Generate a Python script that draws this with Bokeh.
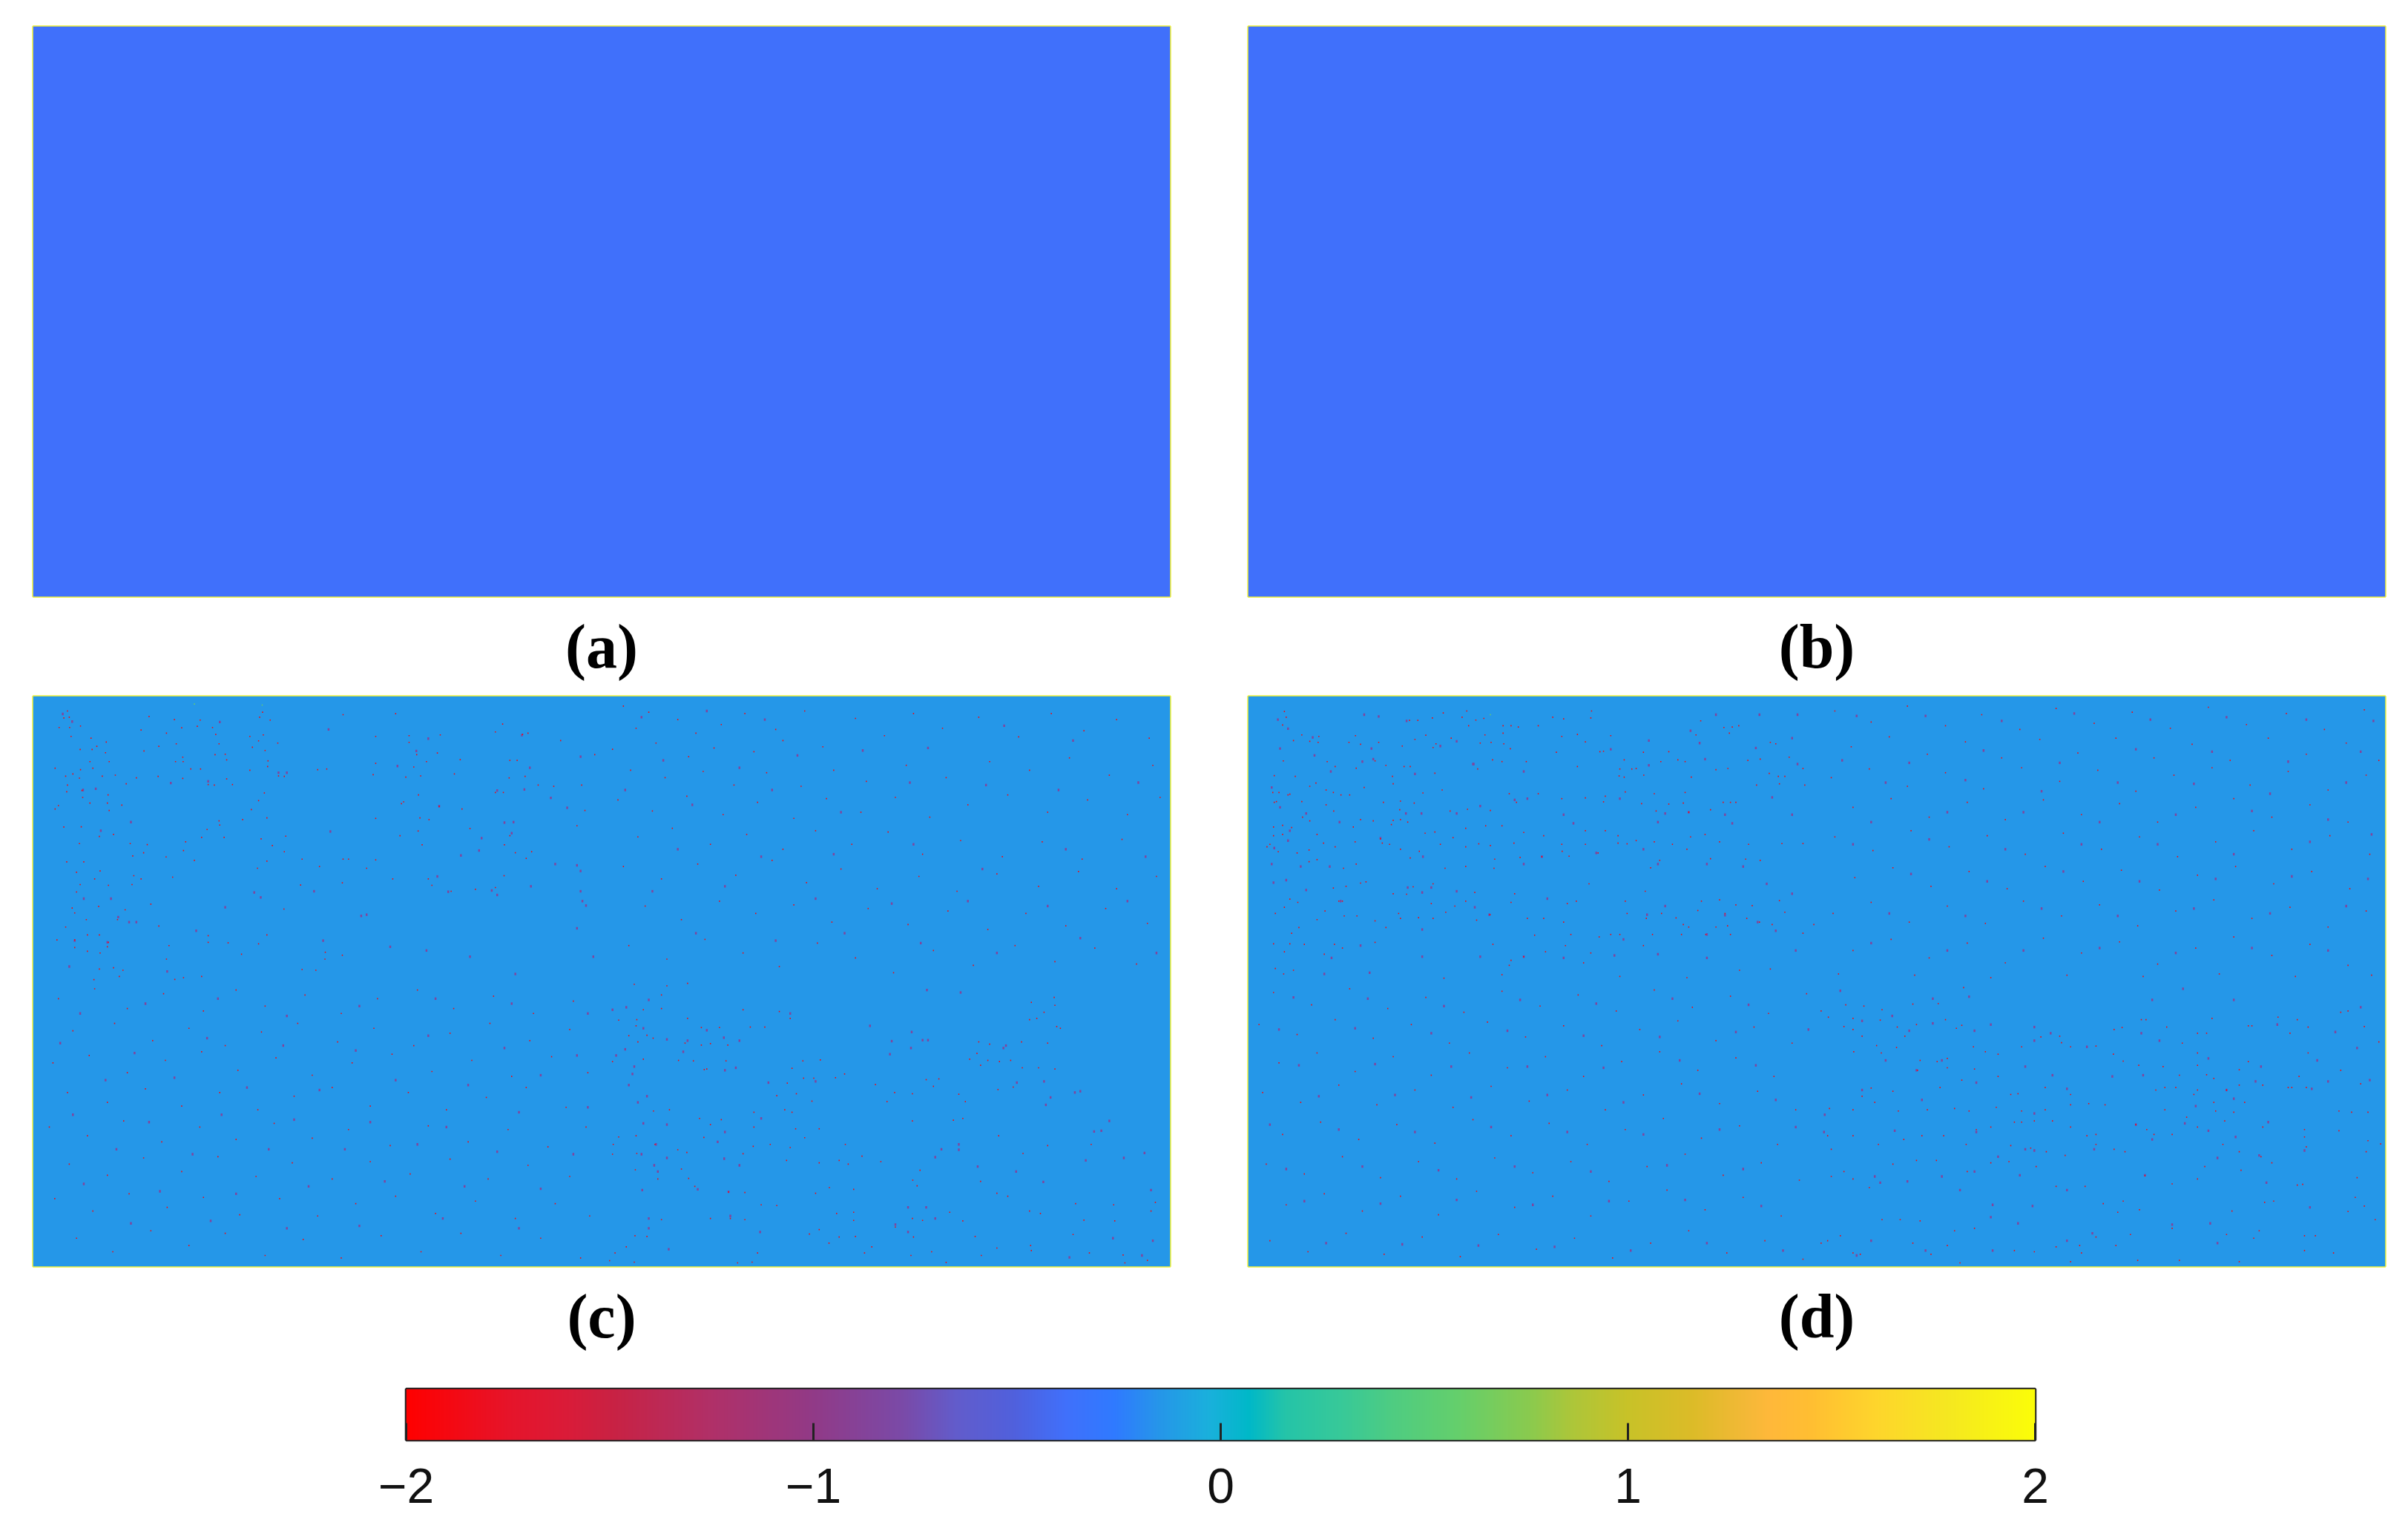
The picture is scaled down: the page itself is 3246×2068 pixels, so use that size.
import numpy as np
from bokeh.plotting import figure
from bokeh.layouts import column, row
from bokeh.embed import file_html
from bokeh.resources import INLINE
from bokeh.models import LinearColorMapper, FixedTicker, Title, ColumnDataSource
from bokeh.transform import linear_cmap

# ---------- colour scale ----------
scale_values = [-2.0, -1.75, -1.61, -1.49, -1.25, -1.0, -0.78, -0.65, -0.51, -0.38, -0.26, -0.145, -0.03, 0.07, 0.16,
                0.3, 0.42, 0.58, 0.76, 0.86, 1.0, 1.16, 1.3, 1.35, 1.45, 1.61, 1.79, 2.0]
scale_colors = ["#ff0000", "#e6142a", "#da1b38", "#c82244", "#b03068", "#913a87", "#7a4aa8", "#625ccb", "#5060dc",
                "#4070fb", "#2f7aff", "#2597e8", "#1ab0dc", "#00b8c8", "#25c4a8", "#38c998", "#4ecc82", "#64cf6c",
                "#8aca4e", "#acc63a", "#c8c228", "#dcbb28", "#f5b838", "#ffb83a", "#ffbe32", "#fed52c", "#f5e820", "#fbfd08"]
cbar_ticks = [-2, -1, 0, 1, 2]
cbar_labels = {-2: "\u22122", -1: "\u22121", 0: "0", 1: "1", 2: "2"}
captions = ["(a)", "(b)", "(c)", "(d)"]

# ---------- panel background values ----------
panel_a = [[-0.38, -0.38], [-0.38, -0.38]]
panel_b = [[-0.38, -0.38], [-0.38, -0.38]]
panel_c = [[-0.145, -0.145], [-0.145, -0.145]]
panel_d = [[-0.145, -0.145], [-0.145, -0.145]]

RED = -1.95      # value of the saturated isolated cells
MUTED = -0.85    # value of the softer isolated cells
GREEN = 0.6      # value of the rare positive cells

# ---------- isolated cells, per quadrant of a panel ----------
c_tl_red = [(95,60),(85,88),(100,85),(72,127),(101,127),(131,121),(105,163),(160,170),(202,186),(130,216),(163,216),(176,203),(200,229),(157,265),(210,265),(165,292),(61,292),(90,324),(131,298),(110,315),(128,332),(191,324),(227,320),(285,331),(95,360),(93,387),(135,382),(137,410),(207,400),(257,355),(70,443),(61,457),(157,433),(205,433),(210,463),(245,441),(85,530),(133,529),(183,568),(222,560),(128,597),(268,597),(315,601),(421,590),(275,647),(305,634),(367,651),(415,625),(445,665),(140,671),(93,671),(185,708),(120,713),(170,740),(130,763),(208,766),(278,727),(298,740),(385,733),(120,793),(273,763),(325,842),(108,858),(115,878),(181,851),(254,865),(147,905),(90,935),(233,905),(347,931),(183,967),(150,967),(66,987),(115,987),(208,997),(115,1018),(150,1033),(205,1015),(185,1040),(368,1065),(375,1010),(248,1110),(183,1105),(222,1100),(168,1148),(238,1135),(391,1147),(415,1140),(465,1135),
(320,82),(390,95),(410,128),(298,137),(368,150),(395,193),(347,203),(306,222),(413,247),(414,265),(393,265),(345,325),(413,333),(435,295),(462,295),(483,358),(500,360),(534,335),(550,358),(534,258),(530,235),(502,237),(513,193),(504,155),(495,127),(453,122),(461,97),(625,85),(633,65),(654,97),(598,163),(635,157),(622,181),(675,190),(640,220),(605,207),(648,262),(598,300),(647,285),(677,323),(693,325),(638,392),(622,423),(602,459),(645,493),(578,500),(515,522),(513,505),(480,540),(465,572),(527,572),(629,578),(660,605),(693,630),(697,567),(645,668),(619,697),(742,660),(790,690),(855,660),(870,660),(945,663),(920,697),(992,740),(853,756),(738,765),(692,862),(645,967),(622,1003),(483,970),(483,997),(538,999),(575,1045),(806,1037),(853,1049),(805,1065),(742,1107),(780,1110),
(855,75),(1000,71),(945,163),(1037,187),(1037,160),(1123,157),(1275,145),(1295,113),(1350,155),(1365,150),(1455,180),(1058,237),(1115,230),(1178,257),(1315,260),(1335,260),(1313,331),(1357,325),(1513,360),(1549,237),(1085,265),(1050,287),(945,272),(810,295),(785,298),(938,318),(1028,328),(1069,323),(1162,315),(1436,365),(1393,360),(1297,390),(1275,390),(1063,400),(1022,428),(1016,435),(1120,447),(1183,457),(1067,493),(945,495),(1092,500),(1500,525),(1522,463),(1205,536),(1315,565),(1300,602),(1062,546),(1012,565),(1073,602),(1330,634),(1375,630),(1360,657),(1299,727),(1090,740),(1100,766),(1275,775),(1153,790),(1220,782)]
c_tl_muted = [(82,72),(108,103),(515,105),(815,135),(1057,222),(1090,172),(1005,283),(1348,158),(1370,290),(1510,245),(700,310),(677,310),(173,375),(138,380),(380,352),(483,345),(1120,445),(1280,382),(1355,378),(1428,412),(1473,452),(270,510),(187,545),(820,548),(1325,510),(1300,512),(1320,555),(1237,575),(1230,625),(1180,645),(1440,680),(1500,685),(1510,708),(1373,770),(1265,787),(1280,805),(1145,792),(1115,730),(775,790),(610,795),(628,815),(530,855),(215,820),(140,820),(235,895),(265,915),(285,915),(920,885),(905,890),(205,997),(115,990),(100,1095),(370,1115),(450,950),(800,990),(985,1015),(1085,1030),(1205,1055),(1330,1125),(1545,1055),(1515,830),(1525,848),(1510,790),(1500,940)]
c_tl_green = [(445,32),(632,36)]

c_br_red = [(90,12),(180,18),(237,8),(165,55),(115,115),(165,110),(97,155),(47,157),(95,180),(125,218),(75,220),(142,230),(237,150),(275,187),(325,187),(390,115),(490,122),(520,150),(348,258),(410,185),(450,185),(300,252),(275,258),(230,250),(100,245),(212,320),(253,322),(115,315),(30,325),(283,357),(343,322),(290,355),(525,352),(555,322),(603,318),(557,392),(585,392),(645,390),(670,375),(512,412),(537,455),(483,463),(580,485),(505,520),(525,530),(420,530),(330,560),(420,590),(600,597),(535,597),(300,580),(270,555),(143,525),(187,520),(95,625),(47,630),(32,660),(97,697),(147,660),(210,682),(235,693),(93,763),(220,760),(240,798),(155,800),(30,700),(282,632),(390,698),(418,668),(465,660),(560,633),(520,673),(510,725),(600,735),(655,725),(672,660),(680,740),(718,708),(770,730),(257,830),(350,853),(395,855),(590,858),(628,835),(695,842),(483,908),(440,905),(300,960),(355,960),(395,965),(165,965),(125,1033),(92,1030),(68,1075),(37,1100),(22,1131),(90,1137),(375,1140),(415,1137),(430,1100),(573,1023),(600,1005),(648,940),(695,935),(695,968),(700,1033),(655,1035),(627,1060),(745,1075),(725,1100),(810,995),(857,960),(885,968),(960,935),(996,970),(860,1035),(853,1110),(910,1095),(950,1138),(1030,1033),(1047,1110),(1090,1080),(1183,1070),(1185,1090),(1300,1025),(1345,1100),(1505,1130),(1443,1140),(1438,1108),(1350,660),(1095,625),(1230,665),(1162,697),(1045,810),(878,765),(858,805),(870,828),(1090,858),(1120,870),(1180,930),(1210,940),(1307,900),(1412,905),(1527,895),(1515,930),(1415,970),(1330,967),(1070,254),(1065,320),(1040,245),(1128,320),(1097,325),(1158,245),(1185,85),(1248,65),(1250,97),(1180,155),(1200,150),(1220,125),(1255,183),(1265,190),(1230,250),(1250,355),(1205,350),(1160,350),(1135,428),(1093,438),(1045,340),(1015,315),(1035,292),(857,455),(787,487),(985,457),(1003,487),(857,565),(970,562),(996,555),(808,450),(755,418),(915,425),(930,395),(895,398)]
c_br_muted = [(30,115),(68,105),(130,75),(115,190),(180,235),(237,240),(290,198),(337,228),(380,240),(225,285),(65,275),(40,300),(90,345),(85,375),(75,420),(125,465),(100,490),(115,575),(180,580),(340,360),(370,350),(460,410),(590,405),(440,555),(340,610),(320,650),(338,718),(380,745),(150,660),(180,715),(110,700),(145,745),(155,770),(112,845),(265,842),(350,852),(355,950),(130,960),(130,1000),(185,1085),(437,1015),(810,985),(845,1015),(920,960),(985,660),(937,680),(920,712),(985,682),(1037,750),(1143,770),(1218,812),(1238,470),(1225,500),(1220,405),(1145,410),(1115,260),(1108,270),(855,205),(800,242),(885,238),(900,238),(853,270),(795,295),(740,180),(1320,445),(1305,450),(1358,608),(1378,605),(1400,565),(1440,715),(1497,695),(1335,725),(1515,845),(1410,1040),(1520,1050),(1490,1110),(1290,1118),(895,915),(845,915),(990,45),(897,35),(520,130)]

c_tr_red = [(60,40),(130,65),(210,95),(95,130),(260,150),(330,115),(395,70),(480,135),(560,60),(150,190),(30,215),(240,245),(310,210),(420,225),(500,180),(610,205),(700,90),(780,160),(860,70),(940,130),(1040,85),(1150,165),(1240,70),(1330,140),(1420,95),(1510,170),(80,300),(175,330),(280,305),(365,360),(455,310),(550,365),(640,300),(730,345),(840,280),(950,330),(1070,265),(1180,300),(1290,250),(1400,320),(1520,280),(45,420),(140,465),(235,405),(335,480),(430,430),(530,495),(620,415),(715,470),(810,410),(905,490),(1010,440),(1120,400),(1230,470),(1340,420),(1450,480),(1540,410),(100,570),(195,535),(300,600),(400,560),(500,620),(590,545),(690,600),(790,550),(885,640),(990,585),(1105,650),(1215,590),(1325,660),(1435,580),(60,690),(165,740),(265,680),(370,725),(470,665),(565,755),(660,700),(760,780),(875,730),(980,790),(1090,720),(1205,770),(1315,710),(1420,780),(1530,730),(120,850),(220,905),(325,830),(425,880),(530,845),(635,915),(735,860),(845,925),(955,870),(1065,945),(1170,880),(1280,930),(1390,860),(1505,920),(75,1010),(180,1065),(285,985),(390,1040),(490,1095),(595,1000),(700,1060),(805,1120),(915,1030),(1025,1090),(1140,1010),(1250,1075),(1360,1020),(1475,1085)]
c_tr_muted = [(110,85),(290,60),(450,95),(170,260),(380,290),(540,240),(720,220),(900,210),(1110,120),(1300,180),(65,380),(250,440),(470,380),(660,470),(850,350),(1060,360),(1260,380),(1480,350),(210,620),(440,650),(640,640),(860,600),(1050,700),(1280,620),(1500,650),(140,790),(340,770),(590,820),(800,840),(1010,830),(1230,850),(1450,830),(260,960),(480,990),(670,960),(880,1000),(1090,1040),(1320,980),(1530,1040)]

c_bl_red = [(70,70),(170,30),(260,110),(360,50),(470,120),(560,35),(640,100),(750,55),(850,130),(950,70),(1060,35),(1160,110),(1270,60),(1380,130),(1490,80),(110,200),(225,170),(330,240),(430,190),(530,260),(630,205),(730,170),(840,245),(940,190),(1050,260),(1150,210),(1260,170),(1370,240),(1480,195),(55,330),(155,300),(260,370),(365,320),(465,285),(565,360),(670,310),(770,380),(880,330),(990,295),(1100,365),(1210,320),(1320,385),(1430,305),(1530,370),(95,450),(205,490),(310,435),(410,505),(515,450),(620,520),(720,465),(825,430),(930,505),(1035,450),(1140,520),(1250,470),(1360,430),(1470,510),(45,590),(150,625),(250,565),(355,650),(460,590),(560,640),(665,575),(770,635),(870,600),(985,665),(1090,585),(1200,650),(1310,600),(1420,670),(1525,590),(100,740),(205,785),(305,715),(410,770),(510,710),(615,790),(715,735),(825,800),(930,730),(1040,780),(1150,720),(1255,800),(1365,745),(1480,790),(60,880),(165,930),(265,860),(370,915),(470,875),(570,945),(680,880),(785,950),(890,900),(1000,870),(1110,940),(1220,890),(1330,960),(1440,900),(1535,950),(120,1040),(220,1095),(325,1010),(430,1070),(530,1020),(640,1110),(745,1045),(850,1120),(960,1030),(1070,1095),(1180,1020),(1290,1110),(1400,1040),(1510,1120)]
c_bl_muted = [(130,130),(310,90),(510,70),(700,140),(900,100),(1110,70),(1320,90),(1530,130),(75,250),(280,290),(480,230),(690,260),(890,280),(1090,220),(1300,270),(1500,300),(200,400),(390,390),(590,430),(790,440),(1000,400),(1200,420),(1400,380),(110,540),(320,570),(520,540),(720,560),(930,570),(1140,590),(1340,530),(1530,510),(230,680),(440,700),(650,680),(860,680),(1060,660),(1280,690),(1490,700),(140,820),(350,850),(560,860),(760,830),(970,810),(1190,830),(1400,840),(270,980),(490,970),(700,1000),(900,990),(1130,960),(1340,1000)]

d_tl_red = [(100,62),(603,60),(538,68),(947,60),(105,85),(95,117),(148,157),(125,180),(97,262),(72,322),(130,325),(170,365),(187,352),(115,397),(85,390),(68,390),(78,427),(148,427),(235,390),(215,440),(236,465),(170,505),(70,530),(95,523),(120,532),(70,565),(95,560),(60,600),(52,610),(83,630),(135,635),(168,623),(190,560),(208,595),(168,670),(190,662),(263,697),(298,680),(240,610),(295,590),(365,578),(390,600),(370,595),(420,620),(472,628),(447,655),(543,697),(600,690),(678,697),(680,660),(600,610),(530,600),(565,573),(636,598),(668,605),(733,595),(750,653),(810,650),(866,628),(885,648),(930,600),(965,635),(1020,595),(1045,598),(1110,695),(1135,665),(1210,620),(1275,658),(1372,660),(1412,665),(1530,597),(1472,597),(1380,600),(1300,590),(1260,560),(1220,570),(1170,600),(1120,590),(1070,585),(1020,565),(985,545),(930,545),(865,600),(815,565),(760,552),(700,525),(655,525),(600,535),(515,550),(488,555),(420,500),(440,510),(395,520),(310,500),(290,530),(345,505),(400,355),(398,325),(445,98),(468,98),(508,88),(590,85),(628,97),(650,90),(608,120),(703,120),(725,120),(745,125),(800,120),(653,157),(703,150),(670,187),(640,190),(705,193),(723,213),(518,193),(510,208),(560,170),(490,158),(460,175),(425,202),(296,160),(310,195),(360,187),(278,187),(195,163),(170,183),(193,187),(218,265),(240,285),(298,292),(350,262),(380,280),(430,285),(447,285),(515,312),(633,295),(674,258),(700,265),(767,265),(850,227),(908,285),(970,225),(980,223),(1037,258),(1058,295),(1070,293),(1090,227),(1025,295),(1023,323),(1091,320),(1037,328),(1138,265),(1185,258),(1205,265),(1222,328),(1290,298),(1323,293),(1345,430),(1310,430),(1330,430),(1402,360),(1465,355),(1535,360),(1462,325),(1480,325),(1437,313),(1530,293),(1492,247),(1412,255),(1378,260),(1327,150),(1312,127),(1335,125),(1353,120),(1440,187),(1455,193),(1248,100),(1235,157),(1160,225),(930,185),(865,163),(908,155),(840,85),(870,92),(945,88),(1000,160),(1205,390),(1120,395),(1040,388),(1125,465),(1160,437),(1200,433),(1215,470),(1275,460),(1085,435),(985,405),(980,428),(930,412),(865,415),(800,395),(740,430),(720,395),(668,463),(605,458),(557,465),(535,380),(482,392),(458,433),(418,460),(400,503),(420,425),(373,430),(320,370),(280,400),(256,400),(215,380),(110,400),(72,430),(150,490),(1090,1010),(1000,965),(890,965),(820,1035),(790,968),(760,1055),(725,1070),(720,1090),(675,1005),(667,885),(630,907),(510,900),(470,897),(420,900),(380,937),(350,997),(260,1020),(238,1005),(210,1045),(155,1005),(115,1003),(70,1003),(98,1125),(75,1103),(125,1110),(100,1035),(120,960),(140,937),(190,905),(265,890),(300,890),(350,910),(260,830),(250,830),(212,870),(100,855),(137,835),(75,880),(115,822),(235,777),(310,757),(270,770),(325,752),(400,800),(437,802),(455,772),(510,760),(600,830),(545,875),(505,840),(415,880),(570,850),(625,795),(735,800),(725,835),(770,900),(815,900),(870,915),(880,840),(905,830),(940,760),(1040,830),(1095,790),(1098,900),(1045,880),(1140,880),(1180,898),(1240,868),(1315,880),(1375,900),(1480,875),(1465,828),(1390,848),(1345,845),(1300,825),(1250,830),(1200,925),(1215,935),(1290,935),(1322,930),(1410,915),(1530,960),(1560,925),(1445,925),(1330,965),(1262,965),(1195,965),(1115,965),(1025,965),(968,975),(945,1040),(925,1080),(875,1010),(700,1128),(540,1142),(1025,1135),(1210,1140),(1440,1105),(1355,1110)]
d_tl_muted = [(82,95),(110,132),(178,167),(88,212),(183,240),(228,305),(320,75),(360,82),(437,100),(575,183),(530,202),(340,212),(315,265),(345,255),(460,315),(622,275),(760,305),(1000,215),(1105,280),(1220,140),(1245,190),(1290,75),(1410,75),(1515,75),(1500,170),(1515,275),(1400,210),(1260,255),(1105,180),(65,370),(88,450),(160,475),(115,545),(110,585),(72,615),(65,680),(145,690),(225,690),(252,510),(365,575),(478,475),(435,475),(575,475),(482,650),(620,275),(735,420),(770,415),(640,445),(870,480),(897,515),(1130,510),(1315,480),(1335,515),(1445,410),(1500,480),(1215,470),(1150,475),(1025,415),(1130,680),(1265,680),(1365,690),(1090,620),(960,635),(810,650),(760,680),(505,775),(575,790),(625,855),(480,795),(255,830),(160,785),(105,745),(70,755),(440,775),(825,820),(1150,850),(1100,885),(1315,887),(1405,915),(1430,760),(1500,800),(1455,950),(1265,965),(1035,985),(760,1055),(665,885),(480,945),(310,1010),(230,1060),(210,1125),(335,1120),(480,1055),(640,1055),(870,1060),(1010,1050),(1130,1045),(1265,1060),(1510,1030)]
d_tl_green = [(668,75)]

d_br_red = [(12,120),(32,145),(75,183),(100,150),(175,157),(222,185),(243,222),(275,175),(355,155),(385,190),(400,178),(405,25),(335,90),(265,92),(180,115),(130,100),(80,95),(100,195),(125,222),(165,260),(220,268),(102,285),(178,290),(285,320),(332,325),(360,312),(432,265),(465,285),(500,295),(565,265),(618,225),(670,222),(675,248),(700,265),(770,262),(820,195),(842,187),(895,155),(908,155),(965,185),(1075,210),(1050,210),(1008,250),(1050,290),(1090,150),(1190,180),(1200,180),(1272,145),(1325,155),(1355,185),(1305,210),(1355,290),(1445,125),(1465,120),(1510,183),(1550,245),(1190,325),(1165,358),(1095,393),(1075,378),(1050,340),(1000,380),(955,345),(888,340),(845,323),(818,295),(700,500),(750,495),(795,500),(960,520),(1040,458),(1050,440),(1095,490),(1100,525),(1180,490),(1150,530),(1125,565),(1310,430),(1350,430),(1440,525),(1475,530),(1520,530),(1500,415),(1445,360),(1330,385),(1300,430),(1230,420),(1165,420),(1130,440),(990,430),(960,430),(935,440),(700,458),(630,430),(535,458),(555,455),(500,385),(400,400),(435,355),(360,350),(340,430),(278,360),(210,445),(150,432),(35,515),(100,520),(125,465),(160,490),(225,525),(305,520),(380,515),(420,525),(495,510),(565,525),(630,520),(545,570),(565,570),(600,565),(650,565),(700,590),(745,625),(770,620),(880,580),(910,600),(930,620),(980,620),(1020,550),(1050,590),(1120,660),(1165,690),(1230,590),(1345,600),(1345,630),(1440,605),(1520,645),(1555,658),(1515,690),(1350,670),(1225,710),(1255,735),(1170,765),(1070,750),(1050,800),(980,820),(905,787),(850,690),(820,680),(770,660),(685,705),(633,690),(590,675),(535,665),(480,590),(440,600),(412,660),(350,625),(290,625),(240,640),(170,660),(100,625),(30,625),(40,680),(100,800),(40,790),(75,770),(145,835),(210,740),(275,725),(330,725),(415,770),(480,735),(530,730),(605,750),(660,830),(740,830),(790,900),(845,890),(830,935),(890,925),(1145,930),(1235,895),(1260,890),(1325,825),(1340,822),(1490,795),(1485,875),(1465,932),(1510,910),(1540,965),(1375,1030),(1345,1030),(1220,1010),(1130,1025),(980,1000),(865,1025),(825,1070),(770,1035),(725,1070),(730,1100),(660,1075),(600,1095),(545,1090),(435,1000),(380,1010),(285,970),(230,965),(180,965),(120,1105),(100,1100),(65,1030),(30,1050),(12,1060),(265,1060),(315,1105),(360,1070),(395,1140),(700,1135),(885,1130),(1000,1130),(1165,1135),(1425,1100),(1345,1090),(1205,1040)]
d_br_muted = [(65,38),(320,70),(420,62),(125,160),(208,140),(320,170),(255,200),(435,200),(480,175),(600,185),(600,240),(645,210),(745,265),(895,210),(945,240),(925,75),(1010,30),(1150,75),(1270,175),(1430,205),(1500,105),(1490,270),(1380,320),(1225,345),(1080,312),(1130,440),(1210,405),(1365,435),(1410,405),(1525,400),(1150,475),(1045,505),(900,380),(815,385),(690,435),(650,380),(575,345),(440,410),(345,320),(275,360),(190,320),(125,440),(22,540),(20,610),(215,605),(290,480),(440,610),(600,535),(575,680),(600,685),(500,710),(765,680),(925,640),(880,580),(1015,575),(1080,605),(1245,570),(1155,630),(1105,715),(1220,705),(1345,685),(435,770),(345,790),(250,810),(160,790),(175,815),(395,845),(485,905),(595,910),(690,845),(560,785),(905,785),(1240,815),(1360,915),(1085,980),(980,985),(555,980),(480,955),(150,1050),(110,1110),(300,1090),(485,1090),(690,1050),(760,1020),(1105,1060)]

d_tr_red = [(50,60),(150,105),(250,40),(355,120),(455,75),(560,135),(660,50),(765,110),(870,65),(975,130),(1080,45),(1185,115),(1295,70),(1400,135),(1510,55),(95,205),(200,165),(305,235),(410,185),(510,250),(615,175),(720,230),(825,170),(930,250),(1035,195),(1140,260),(1245,170),(1350,235),(1460,190),(1550,260),(40,330),(145,295),(250,365),(355,310),(460,375),(565,290),(670,345),(775,300),(880,385),(985,320),(1090,290),(1195,360),(1300,305),(1410,380),(1515,320),(100,450),(205,415),(310,490),(415,430),(520,500),(625,420),(730,480),(835,435),(940,510),(1045,450),(1150,415),(1255,490),(1360,440),(1465,510),(50,570),(155,625),(260,545),(365,610),(470,565),(575,640),(680,555),(785,620),(890,570),(995,650),(1100,590),(1205,545),(1310,620),(1415,565),(1525,640),(105,735),(210,695),(315,770),(420,710),(525,780),(630,690),(735,750),(840,705),(945,785),(1050,725),(1155,690),(1260,760),(1365,710),(1470,780),(45,880),(150,835),(255,915),(360,850),(465,920),(570,830),(675,890),(780,845),(885,930),(990,870),(1095,825),(1200,900),(1305,855),(1410,935),(1515,870),(100,1030),(205,985),(310,1060),(415,1000),(520,1080),(625,980),(730,1040),(835,995),(940,1085),(1045,1020),(1150,975),(1255,1050),(1360,1005),(1465,1090),(60,1125),(270,1130),(480,1140),(690,1130),(900,1135),(1110,1125),(1320,1135),(1530,1130)]
d_tr_muted = [(110,80),(300,80),(510,100),(710,70),(920,95),(1130,85),(1350,95),(1535,100),(70,260),(255,270),(460,220),(670,270),(880,215),(1090,225),(1300,265),(1500,225),(190,350),(410,340),(620,385),(830,350),(1040,355),(1250,395),(1460,350),(150,510),(360,470),(570,470),(780,510),(990,480),(1200,465),(1410,500),(100,600),(310,580),(520,620),(730,600),(940,600),(1150,640),(1360,590),(1530,560),(260,720),(470,750),(680,710),(890,750),(1100,740),(1310,730),(1520,740),(200,880),(410,890),(620,860),(830,890),(1040,860),(1250,880),(1460,850),(150,1000),(360,1030),(570,1030),(780,1020),(990,1040),(1200,1020),(1410,1030)]

d_bl_red = [(70,45),(175,95),(280,30),(385,110),(490,65),(595,125),(700,40),(805,100),(910,55),(1015,120),(1120,35),(1225,105),(1330,60),(1435,130),(1540,50),(30,175),(135,215),(240,155),(345,230),(450,175),(555,250),(660,165),(765,225),(870,180),(975,260),(1080,195),(1185,160),(1290,240),(1395,185),(1500,250),(85,330),(190,290),(295,365),(400,305),(505,380),(610,290),(715,350),(820,305),(925,385),(1030,325),(1135,285),(1240,360),(1345,310),(1450,385),(40,450),(145,490),(250,420),(355,500),(460,440),(565,510),(670,425),(775,485),(880,440),(985,520),(1090,460),(1195,415),(1300,495),(1405,445),(1510,520),(95,620),(200,570),(305,640),(410,580),(515,655),(620,560),(725,625),(830,575),(935,660),(1040,600),(1145,555),(1250,635),(1355,585),(1460,660),(50,740),(155,780),(260,710),(365,795),(470,730),(575,800),(680,715),(785,775),(890,730),(995,810),(1100,750),(1205,700),(1310,785),(1415,735),(1520,805),(105,905),(210,860),(315,930),(420,870),(525,945),(630,850),(735,915),(840,870),(945,950),(1050,890),(1155,845),(1260,925),(1365,875),(1470,950),(60,1050),(165,1095),(270,1020),(375,1105),(480,1035),(585,1115),(690,1025),(795,1085),(900,1040),(1005,1120),(1110,1060),(1215,1010),(1320,1100),(1425,1050),(1530,1125)]
d_bl_muted = [(125,65),(330,70),(540,100),(750,75),(960,90),(1170,70),(1380,95),(85,195),(295,190),(505,210),(715,200),(925,220),(1135,225),(1345,205),(1545,195),(140,340),(350,335),(560,345),(770,345),(980,350),(1190,320),(1400,340),(195,465),(405,460),(615,470),(825,460),(1035,490),(1245,455),(1455,480),(60,580),(250,600),(460,610),(670,590),(880,610),(1090,620),(1300,600),(1510,590),(105,760),(315,750),(525,765),(735,750),(945,770),(1155,745),(1365,760),(155,890),(365,900),(575,885),(785,905),(995,890),(1205,885),(1415,910),(215,1060),(425,1065),(635,1070),(845,1075),(1055,1090),(1265,1060),(1475,1090)]

# ---------- layout measures of the reference (pixels) ----------
PANEL_W, PANEL_H = 1533, 769
QW, QH = 1568, 1155     # extent of one quadrant in panel units
X_END, Y_END = 2 * QW, 2 * QH

low, high = scale_values[0], scale_values[-1]
ramp = np.linspace(low, high, 1024)
def ch(i):
    return np.interp(ramp, scale_values, [int(c[i:i + 2], 16) for c in scale_colors])
palette = ["#%02x%02x%02x" % (int(round(r)), int(round(g)), int(round(b))) for r, g, b in zip(ch(1), ch(3), ch(5))]
mapper = LinearColorMapper(palette=palette, low=low, high=high)


def add_cells(p, quadrant_sets):
    xs, ys, vs, ws, hs = [], [], [], [], []
    for cells, ox, oy, v, w, h in quadrant_sets:
        for x, y in cells:
            xs.append(x + ox); ys.append(Y_END - (y + oy)); vs.append(v); ws.append(w); hs.append(h)
    src = ColumnDataSource(dict(x=xs, y=ys, v=vs, w=ws, h=hs))
    p.rect("x", "y", width="w", height="h", source=src, line_color=None,
           fill_color=linear_cmap("v", palette, low, high))


def panel(values, caption, left, right, top, bottom, standoff):
    p = figure(width=left + PANEL_W + right, height=top + PANEL_H + bottom,
               x_range=(0, X_END), y_range=(0, Y_END),
               x_axis_location=None, y_axis_location=None,
               toolbar_location=None, output_backend="svg",
               min_border_left=left, min_border_right=right, min_border_top=top, min_border_bottom=bottom)
    p.grid.visible = False
    p.outline_line_color = "#f4f43a"
    p.outline_line_width = 2.5
    r = p.image(image=[np.array(values, dtype=float)], x=0, y=0, dw=X_END, dh=Y_END, color_mapper=mapper)
    r.level = "image"
    p.add_layout(Title(text=caption, align="center", standoff=standoff, text_font="Liberation Serif",
                       text_font_size="84px", text_font_style="bold", text_color="#000000",
                       text_line_height=0.9), "below")
    return p


LEFT_COL = dict(left=44, right=43)
RIGHT_COL = dict(left=62, right=23)

a = panel(panel_a, captions[0], top=35, bottom=132, standoff=36, **LEFT_COL)
b = panel(panel_b, captions[1], top=35, bottom=132, standoff=36, **RIGHT_COL)
c = panel(panel_c, captions[2], top=2, bottom=143, standoff=36, **LEFT_COL)
d = panel(panel_d, captions[3], top=2, bottom=143, standoff=36, **RIGHT_COL)

R = (3, 5)
M = (5, 10)
add_cells(c, [(c_tl_muted, 0, 0, MUTED, *M), (c_tr_muted, QW, 0, MUTED, *M), (c_bl_muted, 0, QH, MUTED, *M), (c_br_muted, QW, QH, MUTED, *M),
              (c_tl_red, 0, 0, RED, *R), (c_tr_red, QW, 0, RED, *R), (c_bl_red, 0, QH, RED, *R), (c_br_red, QW, QH, RED, *R),
              (c_tl_green, 0, 0, GREEN, *R)])
add_cells(d, [(d_tl_muted, 0, 0, MUTED, *M), (d_tr_muted, QW, 0, MUTED, *M), (d_bl_muted, 0, QH, MUTED, *M), (d_br_muted, QW, QH, MUTED, *M),
              (d_tl_red, 0, 0, RED, *R), (d_tr_red, QW, 0, RED, *R), (d_bl_red, 0, QH, RED, *R), (d_br_red, QW, QH, RED, *R),
              (d_tl_green, 0, 0, GREEN, *R)])

# ---------- colour bar ----------
cb = figure(width=547 + 2196 + 495, height=22 + 69 + 119,
            x_range=(low, high), y_range=(0, 1), y_axis_location=None,
            toolbar_location=None, output_backend="svg",
            min_border_left=547, min_border_right=495, min_border_top=22, min_border_bottom=119)
cb.grid.visible = False
cb.outline_line_color = "#222222"
cb.outline_line_width = 3.5
img = cb.image(image=[ramp.reshape(1, -1)], x=low, y=0, dw=high - low, dh=1, color_mapper=mapper)
img.level = "image"
ax = cb.xaxis[0]
ax.ticker = FixedTicker(ticks=cbar_ticks)
ax.major_label_overrides = cbar_labels
ax.major_tick_in = 23
ax.major_tick_out = 0
ax.minor_tick_line_color = None
ax.axis_line_color = None
ax.major_tick_line_color = "#222222"
ax.major_tick_line_width = 3
ax.major_label_standoff = 38
ax.major_label_text_font = "Liberation Sans"
ax.major_label_text_font_size = "66px"
ax.major_label_text_color = "#111111"

layout = column(row(a, b, spacing=0), row(c, d, spacing=0), cb, spacing=0)
open("out.html", "w").write(file_html(layout, INLINE))
